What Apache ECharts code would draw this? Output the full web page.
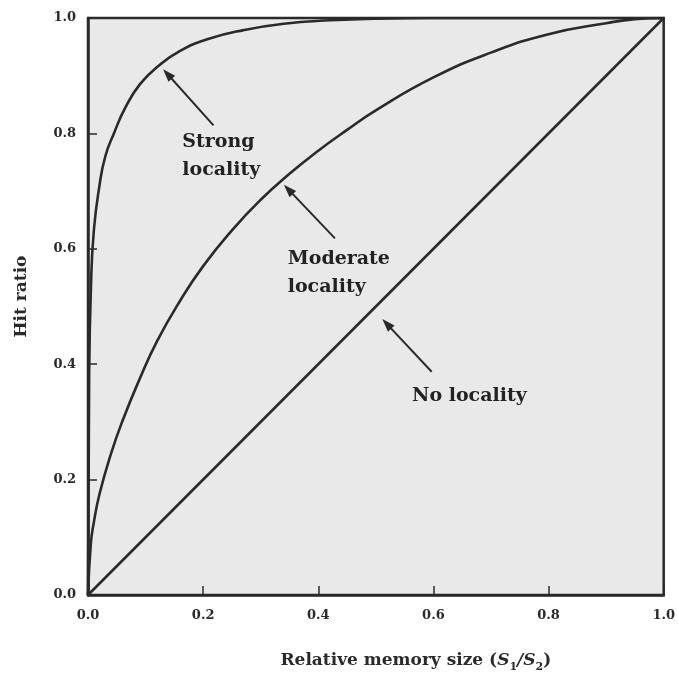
<!DOCTYPE html>
<html>
<head>
<meta charset="utf-8">
<script src="https://cdn.jsdelivr.net/npm/echarts@6/dist/echarts.min.js"></script>
<style>html,body{margin:0;padding:0;background:#fff}#c{width:678px;height:678px}</style>
</head>
<body>
<div id="c"></div>
<script>
// ---- data ----
const xTicks = [0.0, 0.2, 0.4, 0.6, 0.8, 1.0];
const yTicks = [0.0, 0.2, 0.4, 0.6, 0.8, 1.0];

const strongX = [0, 0.002, 0.005, 0.01, 0.02, 0.03, 0.045, 0.065, 0.09, 0.12, 0.16, 0.21, 0.27, 0.34, 0.42, 0.5, 0.6, 0.8, 1.0];
const strongY = [0, 0.38, 0.53, 0.63, 0.71, 0.76, 0.80, 0.845, 0.885, 0.915, 0.943, 0.964, 0.979, 0.990, 0.996, 0.999, 1.0, 1.0, 1.0];

const moderateX = [0, 0.005, 0.01, 0.02, 0.04, 0.06, 0.09, 0.12, 0.16, 0.2, 0.25, 0.3, 0.35, 0.4, 0.45, 0.5, 0.6, 0.7, 0.8, 0.9, 0.95, 1.0];
const moderateY = [0, 0.09, 0.125, 0.175, 0.245, 0.302, 0.375, 0.44, 0.51, 0.57, 0.632, 0.685, 0.73, 0.77, 0.806, 0.84, 0.897, 0.94, 0.972, 0.991, 0.998, 1.0];

const noneX = [0, 1];
const noneY = [0, 1];

// annotation labels
const labelNames = ['Strong\nlocality', 'Moderate\nlocality', 'No locality'];
const labelX = [0.163, 0.346, 0.562];
const labelY = [0.760, 0.558, 0.344];
// arrows: tail -> tip
const arrowTailX = [0.218, 0.429, 0.597];
const arrowTailY = [0.814, 0.618, 0.387];
const arrowTipX = [0.138, 0.348, 0.519];
const arrowTipY = [0.903, 0.703, 0.470];

const zip = (xs, ys) => xs.map((x, i) => [x, ys[i]]);
const FONT = 'DejaVu Serif';
const INK = '#2a2a2a';

const chart = echarts.init(document.getElementById('c'), null, {renderer: 'canvas'});
const lineStyle = {color: INK, width: 2.6};

chart.setOption({
  animation: false,
  backgroundColor: '#ffffff',
  grid: {left: 88, right: 10, top: 18, bottom: 82, show: true,
         backgroundColor: '#e9e9e9', borderColor: INK, borderWidth: 2.5},
  xAxis: {
    type: 'value', min: 0, max: 1, interval: 0.2,
    name: '{t|Relative memory size (}{i|S}{s|1}{i|/S}{s|2}{t|)}',
    nameLocation: 'middle', nameGap: 54,
    nameTextStyle: {padding: [0, 0, 0, 80], rich: {
      t: {fontFamily: FONT, fontWeight: 'bold', fontSize: 17, color: INK, lineHeight: 24, verticalAlign: 'middle'},
      i: {fontFamily: FONT, fontWeight: 'bold', fontStyle: 'italic', fontSize: 17, color: INK, lineHeight: 24, verticalAlign: 'middle'},
      s: {fontFamily: FONT, fontWeight: 'bold', fontSize: 11, color: INK, lineHeight: 24, verticalAlign: 'bottom'}
    }},
    axisLine: {show: true, lineStyle: {color: INK, width: 2.5}},
    axisTick: {show: true, inside: true, length: 9, lineStyle: {color: INK, width: 1.5}},
    splitLine: {show: false},
    axisLabel: {margin: 14, fontFamily: FONT, fontWeight: 'bold', fontSize: 13, color: INK,
                formatter: v => xTicks.find(t => Math.abs(t - v) < 1e-9).toFixed(1)}
  },
  yAxis: {
    type: 'value', min: 0, max: 1, interval: 0.2,
    name: 'Hit ratio', nameLocation: 'middle', nameGap: 58,
    nameTextStyle: {fontFamily: FONT, fontWeight: 'bold', fontSize: 17, color: INK, padding: [0, 0, 0, 20]},
    axisLine: {show: true, lineStyle: {color: INK, width: 2.5}},
    axisTick: {show: true, inside: true, length: 9, lineStyle: {color: INK, width: 1.5}},
    splitLine: {show: false},
    axisLabel: {margin: 12, fontFamily: FONT, fontWeight: 'bold', fontSize: 13, color: INK,
                formatter: v => yTicks.find(t => Math.abs(t - v) < 1e-9).toFixed(1)}
  },
  series: [
    {type: 'line', name: 'Strong locality', data: zip(strongX, strongY), showSymbol: false,
     smooth: 0.5, lineStyle: lineStyle},
    {type: 'line', name: 'Moderate locality', data: zip(moderateX, moderateY), showSymbol: false,
     smooth: 0.5, lineStyle: lineStyle},
    {type: 'line', name: 'No locality', data: zip(noneX, noneY), showSymbol: false,
     lineStyle: lineStyle,
     markLine: {
       silent: true, symbol: ['none', 'triangle'], symbolSize: [9, 13],
       lineStyle: {color: INK, width: 2, type: 'solid'},
       label: {show: false},
       data: arrowTailX.map((x, i) => [{coord: [x, arrowTailY[i]]}, {coord: [arrowTipX[i], arrowTipY[i]]}])
     }},
    {type: 'scatter', symbolSize: 1, silent: true, itemStyle: {opacity: 0},
     data: labelNames.map((n, i) => ({name: n, value: [labelX[i], labelY[i]]})),
     label: {show: true, position: 'right', distance: 0, align: 'left', verticalAlign: 'middle',
             formatter: p => p.name, fontFamily: FONT, fontWeight: 'bold', fontSize: 19,
             lineHeight: 28, color: '#222', opacity: 1, textBorderWidth: 0}}
  ]
});
</script>
</body>
</html>
